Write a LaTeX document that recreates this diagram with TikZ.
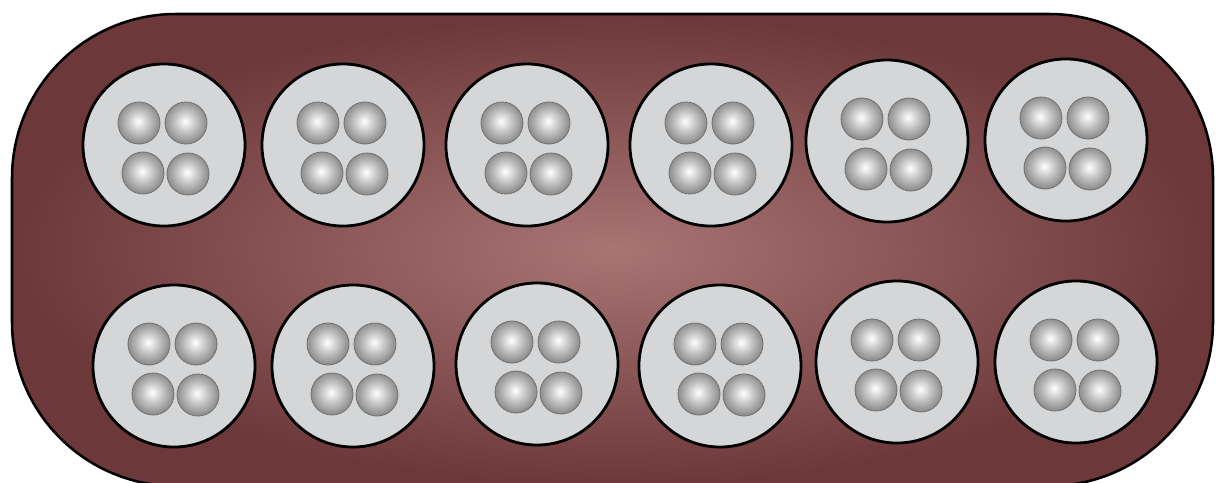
\documentclass[tikz,border=0pt]{standalone}
\usepackage{tikz}

\definecolor{boardrim}{RGB}{108,56,57}
\definecolor{boardmid}{RGB}{168,116,116}
\definecolor{pitgrey}{RGB}{212,214,216}

\pgfdeclareradialshading{pebble}{\pgfpoint{-1bp}{2bp}}{%
  color(0bp)=(white); color(12bp)=(gray!45); color(25bp)=(gray!90); color(50bp)=(gray!90)}

\begin{document}
\begin{tikzpicture}[
  x=0.025cm, y=-0.025cm,
  board/.style={draw=black, line width=1.8pt, rounded corners=4.1cm,
    inner color=boardmid, outer color=boardrim},
  pit/.style={circle, draw=black, line width=2pt, fill=pitgrey,
    minimum size=4.05cm, inner sep=0pt},
  bead/.style={circle, draw=black!55, line width=0.6pt, shading=pebble,
    minimum size=1.05cm, inner sep=0pt}
]
  \useasboundingbox (0,0) rectangle (1216,482);

  % board
  \path[board] (12,14) rectangle (1213,486);

  % pits, top row then bottom row
  \foreach \px/\py [count=\i] in {164/145, 343/145, 527/145, 711/145, 887/141, 1066/140}
    \node[pit] (t\i) at (\px,\py) {};
  \foreach \px/\py [count=\i] in {174/366, 353/366, 537/364, 720/366, 897/362, 1076/362}
    \node[pit] (b\i) at (\px,\py) {};

  % four beads in every pit
  \foreach \p in {t1,t2,t3,t4,t5,t6,b1,b2,b3,b4,b5,b6} {
    \node[bead] (\p-a) at ([shift={(-25,-22)}]\p) {};
    \node[bead] (\p-b) at ([shift={(22,-22)}]\p) {};
    \node[bead] (\p-c) at ([shift={(-21,28)}]\p) {};
    \node[bead] (\p-d) at ([shift={(24,29)}]\p) {};
  }
\end{tikzpicture}
\end{document}
